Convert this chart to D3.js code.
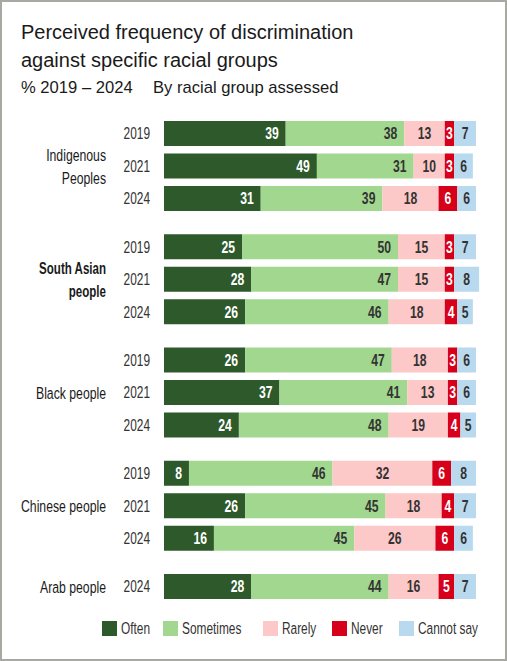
<!DOCTYPE html>
<html>
<head>
<meta charset="utf-8">
<script src="https://cdn.jsdelivr.net/npm/d3@7"></script>
<style>
  html, body { margin: 0; padding: 0; background: #fff; }
  svg { display: block; }
</style>
</head>
<body>
<div id="chart"></div>
<script>
var width = 507;
var height = 661;

// data
const groups = ["Indigenous Peoples", "South Asian people", "Black people", "Chinese people", "Arab people"];
const groupYears = [
    ["2019", "2021", "2024"],
    ["2019", "2021", "2024"],
    ["2019", "2021", "2024"],
    ["2019", "2021", "2024"],
    ["2024"]
];
const categories = ["Often", "Sometimes", "Rarely", "Never", "Cannot say"];
const often      = [39, 49, 31, 25, 28, 26, 26, 37, 24,  8, 26, 16, 28];
const sometimes  = [38, 31, 39, 50, 47, 46, 47, 41, 48, 46, 45, 45, 44];
const rarely     = [13, 10, 18, 15, 15, 18, 18, 13, 19, 32, 18, 26, 16];
const never      = [ 3,  3,  6,  3,  3,  4,  3,  3,  4,  6,  4,  6,  5];
const cannotSay  = [ 7,  6,  6,  7,  8,  5,  6,  6,  5,  8,  7,  6,  7];
const colors = ["#2e5a2b", "#a2d78f", "#fdc8c8", "#d7001a", "#b9d9ee"];
const labelColors = ["#fff", "#333", "#333", "#fff", "#333"];

const series = [often, sometimes, rarely, never, cannotSay];

// build rows
var rows = [];
var k = 0;
groups.forEach(function (g, gi) {
    groupYears[gi].forEach(function (yr) {
        var r = { key: g + "|" + yr, group: g, gi: gi, year: yr, slot: k + gi * 0.485 };
        categories.forEach(function (c, ci) { r[c] = series[ci][k]; });
        rows.push(r);
        k++;
    });
});

// no condensed face installed, so squeeze a normal one
const narrowFont = "'Liberation Sans', Arial, sans-serif";
const squeeze = 0.72;
function place(px, py, s) {
    return "translate(" + px + "," + py + ") scale(" + (s || squeeze) + ",1)";
}

const svg = d3.select("#chart")
    .append("svg")
    .attr("width", width)
    .attr("height", height);

// frame
svg.append("rect")
    .attr("x", 1).attr("y", 1)
    .attr("width", width - 2).attr("height", height - 2)
    .attr("fill", "#fff")
    .attr("stroke", "#a9a9a3")
    .attr("stroke-width", 2);

// title
var title = svg.append("g").attr("font-family", "'Liberation Sans', Arial, sans-serif").attr("fill", "#1a1a1a");
title.append("text").attr("x", 21).attr("y", 39).attr("font-size", 20).text("Perceived frequency of discrimination");
title.append("text").attr("x", 21).attr("y", 67).attr("font-size", 20).text("against specific racial groups");
title.append("text").attr("x", 21).attr("y", 93).attr("font-size", 16.6).text("% 2019 \u2013 2024");
title.append("text").attr("x", 153).attr("y", 93).attr("font-size", 16.6).text("By racial group assessed");

const x = d3.scaleLinear().domain([0, 100]).range([164, 476]);
const lastSlot = rows[rows.length - 1].slot;
const yc = d3.scaleLinear().domain([0, lastSlot]).range([133.5, 586.5]);
const barH = 25;

const stack = d3.stack().keys(categories)(rows);

var layers = svg.selectAll(".layer")
    .data(stack)
    .enter().append("g")
    .attr("class", "layer")
    .attr("fill", function (d, i) { return colors[i]; });

layers.selectAll("rect")
    .data(function (d) { return d; })
    .enter().append("rect")
    .attr("x", function (d) { return x(d[0]); })
    .attr("y", function (d) { return yc(d.data.slot) - barH / 2; })
    .attr("width", function (d) { return x(d[1]) - x(d[0]); })
    .attr("height", barH);

// value labels
layers.selectAll("text")
    .data(function (d, i) { return d.map(function (p) { return { p: p, i: i }; }); })
    .enter().append("text")
    .attr("font-family", narrowFont)
    .attr("font-size", 16)
    .attr("font-weight", "bold")
    .attr("fill", function (d) { return labelColors[d.i]; })
    .attr("text-anchor", function (d) { return d.i < 2 ? "end" : "middle"; })
    .attr("transform", function (d) {
        var px = d.i < 2 ? x(d.p[1]) - 7 : (x(d.p[0]) + x(d.p[1])) / 2;
        return place(px, yc(d.p.data.slot), 0.76);
    })
    .attr("dy", "0.36em")
    .text(function (d) { return d.p[1] - d.p[0]; });

// year labels
svg.selectAll(".year")
    .data(rows)
    .enter().append("text")
    .attr("class", "year")
    .attr("font-family", narrowFont)
    .attr("font-size", 16.5)
    .attr("fill", "#333")
    .attr("text-anchor", "end")
    .attr("transform", function (d) { return place(150, yc(d.slot)); })
    .attr("dy", "0.36em")
    .text(function (d) { return d.year; });

// group labels
var groupRows = groups.map(function (g) {
    var rs = rows.filter(function (r) { return r.group === g; });
    return { name: g, slot: (rs[0].slot + rs[rs.length - 1].slot) / 2 };
});
var groupLines = {
    "Indigenous Peoples": ["Indigenous", "Peoples"],
    "South Asian people": ["South Asian", "people"],
    "Black people": ["Black people"],
    "Chinese people": ["Chinese people"],
    "Arab people": ["Arab people"]
};

var gl = svg.selectAll(".glabel")
    .data(groupRows)
    .enter().append("text")
    .attr("class", "glabel")
    .attr("font-family", narrowFont)
    .attr("font-size", 17)
    .attr("fill", "#1a1a1a")
    .attr("font-weight", function (d) { return d.name === "South Asian people" ? "bold" : "normal"; })
    .attr("text-anchor", "end")
    .attr("transform", function (d) {
        return place(106, yc(d.slot), d.name === "South Asian people" ? 0.68 : squeeze);
    });

gl.selectAll("tspan")
    .data(function (d) {
        var lines = groupLines[d.name];
        return lines.map(function (l, i) { return { t: l, i: i, n: lines.length }; });
    })
    .enter().append("tspan")
    .attr("x", 0)
    .attr("dy", function (d) {
        if (d.i === 0) return (0.36 - (d.n - 1) * 0.68) + "em";
        return "1.36em";
    })
    .text(function (d) { return d.t; });

// legend
const legendX = [102, 163, 263, 332, 399];
var legend = svg.selectAll(".legend")
    .data(categories)
    .enter().append("g")
    .attr("class", "legend")
    .attr("transform", function (d, i) { return "translate(" + legendX[i] + ",621)"; });

legend.append("rect")
    .attr("width", 15)
    .attr("height", 15)
    .attr("fill", function (d, i) { return colors[i]; });

legend.append("text")
    .attr("transform", place(19, 7.5))
    .attr("dy", "0.36em")
    .attr("font-family", narrowFont)
    .attr("font-size", 16.5)
    .attr("fill", "#333")
    .text(function (d) { return d; });
</script>
</body>
</html>
